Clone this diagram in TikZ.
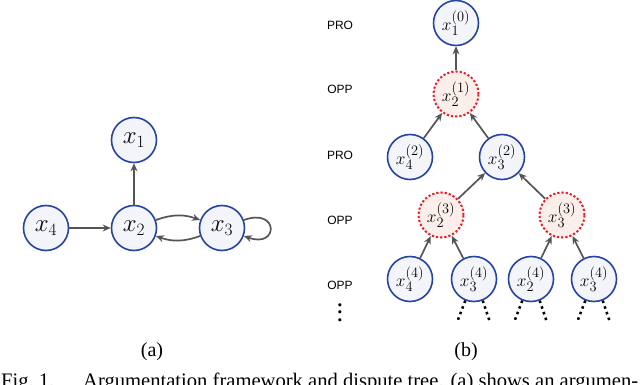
\documentclass[tikz,border=0pt]{standalone}
\usepackage{fontspec}
\setmainfont{Liberation Serif}
\newfontfamily\lblfont{Liberation Sans}
\usetikzlibrary{positioning,arrows.meta}

\definecolor{argblue}{RGB}{38,66,165}
\definecolor{argfill}{RGB}{243,245,251}
\definecolor{oppred}{RGB}{232,32,38}
\definecolor{oppfill}{RGB}{252,238,234}
\definecolor{edgegray}{RGB}{85,85,85}

\begin{document}
\begin{tikzpicture}[x=1pt,y=1pt,>={Stealth[length=8pt,width=7pt]},
      on grid,node distance=88pt,
      every edge/.style={draw=edgegray,line width=1.7pt,->},
      pro/.style={circle,draw=argblue,fill=argfill,line width=1.6pt,
        minimum size=45pt,inner sep=0pt,font=\fontsize{19}{21}\selectfont},
      opp/.style={pro,draw=oppred,fill=oppfill,line width=2pt,
        dash pattern=on 2.2pt off 2pt},
      big/.style={pro,font=\fontsize{23}{26}\selectfont},
      side/.style={font=\lblfont\fontsize{12}{14}\selectfont},
      sub/.style={anchor=base,inner sep=0pt,font=\fontsize{20}{24}\selectfont},
      stub/.style={line width=2.5pt,dash pattern=on 2.5pt off 3.5pt}]
    \useasboundingbox (0,0) rectangle (640,-385);
    \clip (0,0) rectangle (640,-385);
    % (a) framework
    \node[big] (x2) at (134,-228) {$x_2$};
    \node[big,above=of x2] (x1) {$x_1$};
    \node[big,left=of x2] (x4) {$x_4$};
    \node[big,right=of x2] (x3) {$x_3$};
    \path (x4) edge (x2)
          (x2) edge (x1)
          (x2) edge[bend left=20] (x3)
          (x3) edge[bend left=20] (x2)
          (x3) edge[loop right,out=20,in=-20,looseness=6] (x3);
    \node[sub] (ca) at (152,-356) {(a)};
    % (b) dispute tree
    \node[side] (l0) at (340,-25) {PRO};
    \node[side] (l1) at (340,-89) {OPP};
    \node[side] (l2) at (340,-155) {PRO};
    \node[side] (l3) at (340,-220) {OPP};
    \node[side] (l4) at (340,-285) {OPP};
    \node[inner sep=0pt] (l5) at (340,-307)
      {\fontsize{14}{16}\selectfont\scalebox{1.9}{$\vdots$}};
    \node[pro] (t0) at (456,-23) {$x_1^{(0)}$};
    \node[opp] (t1) at (456,-94) {$x_2^{(1)}$};
    \node[pro] (t2) at (410,-157) {$x_4^{(2)}$};
    \node[pro] (t3) at (502,-157) {$x_3^{(2)}$};
    \node[opp] (t4) at (441,-215) {$x_2^{(3)}$};
    \node[opp] (t5) at (562,-215) {$x_3^{(3)}$};
    \node[pro] (t6) at (410,-279) {$x_4^{(4)}$};
    \node[pro] (t7) at (474,-279) {$x_3^{(4)}$};
    \node[pro] (t8) at (531,-279) {$x_2^{(4)}$};
    \node[pro] (t9) at (594,-279) {$x_3^{(4)}$};
    \path (t1) edge (t0)
          (t2) edge (t1)
          (t3) edge (t1)
          (t4) edge (t3)
          (t5) edge (t3)
          (t6) edge (t4)
          (t7) edge (t4)
          (t8) edge (t5)
          (t9) edge (t5);
    \foreach \n in {t7,t8,t9} {
      \draw[stub] (\n.-112) -- ++(-8,-21);
      \draw[stub] (\n.-68) -- ++(7,-21);
    }
    \node[sub] (cb) at (466,-356) {(b)};
    % caption, cut off by the page edge
    \node[anchor=north west,inner sep=0pt] (cap) at (1,-373)
      {\resizebox{637pt}{!}{Fig.~1.\hspace{1.4em}Argumentation framework and dispute tree. (a) shows an argumen-}};
  \end{tikzpicture}
\end{document}
